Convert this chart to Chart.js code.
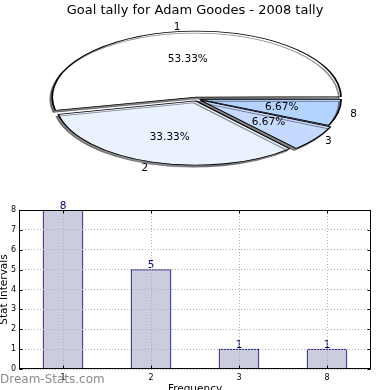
<!DOCTYPE html>
<html>
<head>
<meta charset="utf-8">
<script src="https://cdn.jsdelivr.net/npm/chart.js@4.4.0/dist/chart.umd.min.js"></script>
<style>
  body { margin: 0; background: #fff; }
  canvas { display: block; }
</style>
</head>
<body>
<canvas id="pieChart" width="390" height="195"></canvas>
<canvas id="barChart" width="390" height="195"></canvas>
<script>
// chart data
const categories = ['1', '2', '3', '8'];
const goalCounts = [8, 5, 1, 1];
const yTicks = [0, 1, 2, 3, 4, 5, 6, 7, 8];
const sliceColors = ['#ffffff', '#eaf1ff', '#c6d9ff', '#b3d4ff'];
const sliceExplode = [10, 10, 10, 6];

const total = goalCounts.reduce((a, b) => a + b, 0);
const percentLabels = goalCounts.map(v => (v / total * 100).toFixed(2) + '%');

// pie is drawn clockwise from east, so feed slices in reverse
const pieOrder = [3, 2, 1, 0];

Chart.defaults.font.family = "'DejaVu Sans', sans-serif";
Chart.defaults.color = '#000';

// squashed ellipse for the pie
const ELL = { x: 197, y: 99, rx: 140, ry: 64 };

const squashPie = {
  id: 'squashPie',
  beforeDatasetsDraw(chart) {
    const arc = chart.getDatasetMeta(0).data[0];
    const ctx = chart.ctx;
    ctx.save();
    ctx.translate(ELL.x, ELL.y);
    ctx.scale(ELL.rx / arc.outerRadius, ELL.ry / arc.outerRadius);
    ctx.translate(-arc.x, -arc.y);
    ctx.shadowColor = 'rgba(0,0,0,0.45)';
    ctx.shadowOffsetX = -2;
    ctx.shadowOffsetY = 2;
    ctx.shadowBlur = 0;
  },
  afterDatasetsDraw(chart) {
    chart.ctx.restore();
  },
  afterDraw(chart) {
    const ctx = chart.ctx;
    const meta = chart.getDatasetMeta(0);
    const sx = ELL.rx / meta.data[0].outerRadius;
    const sy = ELL.ry / meta.data[0].outerRadius;
    ctx.save();
    ctx.font = "10.5px 'DejaVu Sans'";
    ctx.fillStyle = '#000';
    ctx.textBaseline = 'middle';
    meta.data.forEach((arc, i) => {
      const k = pieOrder[i];
      const mid = (arc.startAngle + arc.endAngle) / 2;
      const c = Math.cos(mid), s = Math.sin(mid);
      const off = (arc.options.offset || 0) / 4;
      const ox = ELL.x + c * off * sx, oy = ELL.y + s * off * sy;
      ctx.textAlign = c > 0 ? 'left' : 'right';
      ctx.fillText(categories[k], ox + c * ELL.rx * 1.1, oy + s * ELL.ry * 1.1);
      ctx.textAlign = 'center';
      ctx.fillText(percentLabels[k], ox + c * ELL.rx * 0.6, oy + s * ELL.ry * 0.6);
    });
    ctx.restore();
  }
};

new Chart(document.getElementById('pieChart'), {
  type: 'pie',
  data: {
    labels: pieOrder.map(k => categories[k]),
    datasets: [{
      data: pieOrder.map(k => goalCounts[k]),
      backgroundColor: pieOrder.map(k => sliceColors[k]),
      offset: pieOrder.map(k => sliceExplode[k]),
      borderColor: '#000',
      borderWidth: 1,
      clip: false
    }]
  },
  options: {
    responsive: false,
    animation: false,
    rotation: 90,
    plugins: {
      legend: { display: false },
      tooltip: { enabled: false },
      title: {
        display: true,
        text: 'Goal tally for Adam Goodes - 2008 tally',
        font: { size: 13, weight: 'normal' },
        color: '#000',
        padding: { top: 3, bottom: 4 }
      }
    }
  },
  plugins: [squashPie]
});

// frame, inner ticks, value labels and watermark for the bar chart
const barExtras = {
  id: 'barExtras',
  afterDatasetsDraw(chart) {
    const ctx = chart.ctx;
    const meta = chart.getDatasetMeta(0);
    ctx.save();
    ctx.font = "10.5px 'DejaVu Sans'";
    ctx.fillStyle = '#000080';
    ctx.textAlign = 'center';
    ctx.textBaseline = 'alphabetic';
    meta.data.forEach((bar, i) => {
      ctx.fillText(String(goalCounts[i]), bar.x, bar.y - 1.5);
    });
    ctx.restore();
  },
  afterDraw(chart) {
    const ctx = chart.ctx;
    const a = chart.chartArea;
    const L = Math.round(a.left) + 0.5, R = Math.round(a.right) - 0.5;
    const T = Math.round(a.top) + 0.5, B = Math.round(a.bottom) - 0.5;
    ctx.save();
    ctx.strokeStyle = '#000';
    ctx.lineWidth = 1;
    ctx.strokeRect(L, T, R - L, B - T);
    ctx.beginPath();
    chart.scales.y.ticks.forEach((t, i) => {
      const y = Math.round(chart.scales.y.getPixelForTick(i)) + 0.5;
      ctx.moveTo(L, y); ctx.lineTo(L + 3, y);
      ctx.moveTo(R, y); ctx.lineTo(R - 3, y);
    });
    chart.scales.x.ticks.forEach((t, i) => {
      const x = Math.round(chart.scales.x.getPixelForTick(i)) + 0.5;
      ctx.moveTo(x, B); ctx.lineTo(x, B - 3);
      ctx.moveTo(x, T); ctx.lineTo(x, T + 3);
    });
    ctx.stroke();
    ctx.font = "12px 'DejaVu Sans'";
    ctx.fillStyle = 'rgba(125,125,125,0.9)';
    ctx.textAlign = 'left';
    ctx.textBaseline = 'middle';
    ctx.fillText('Dream-Stats.com', 0, 185);
    ctx.restore();
  }
};

new Chart(document.getElementById('barChart'), {
  type: 'bar',
  data: {
    labels: categories,
    datasets: [{
      data: goalCounts,
      backgroundColor: '#ccccdf',
      borderColor: '#000080',
      borderWidth: 1,
      barThickness: 40
    }]
  },
  options: {
    responsive: false,
    animation: false,
    layout: { padding: { top: 15, right: 19, left: 0, bottom: 0 } },
    plugins: {
      legend: { display: false },
      tooltip: { enabled: false }
    },
    scales: {
      x: {
        grid: { offset: false, color: '#b0b0b0', drawTicks: false, z: 1 },
        border: { display: false, dash: [1, 2] },
        ticks: { font: { size: 8 }, padding: 4, color: '#000' },
        title: {
          display: true,
          text: 'Frequency',
          font: { size: 10.5 },
          color: '#000',
          padding: { top: 0, bottom: -5.5 }
        },
        afterFit: s => { s.height = 21; }
      },
      y: {
        min: yTicks[0],
        max: yTicks[yTicks.length - 1],
        grid: { color: '#b0b0b0', drawTicks: false, z: 1 },
        border: { display: false, dash: [1, 2] },
        ticks: { stepSize: 1, font: { size: 8 }, padding: 3, color: '#000' },
        title: {
          display: true,
          text: 'Stat Intervals',
          font: { size: 10.5 },
          color: '#000',
          padding: { top: -2.5, bottom: 0 }
        },
        afterFit: s => { s.width = 19; }
      }
    }
  },
  plugins: [barExtras]
});
</script>
</body>
</html>
